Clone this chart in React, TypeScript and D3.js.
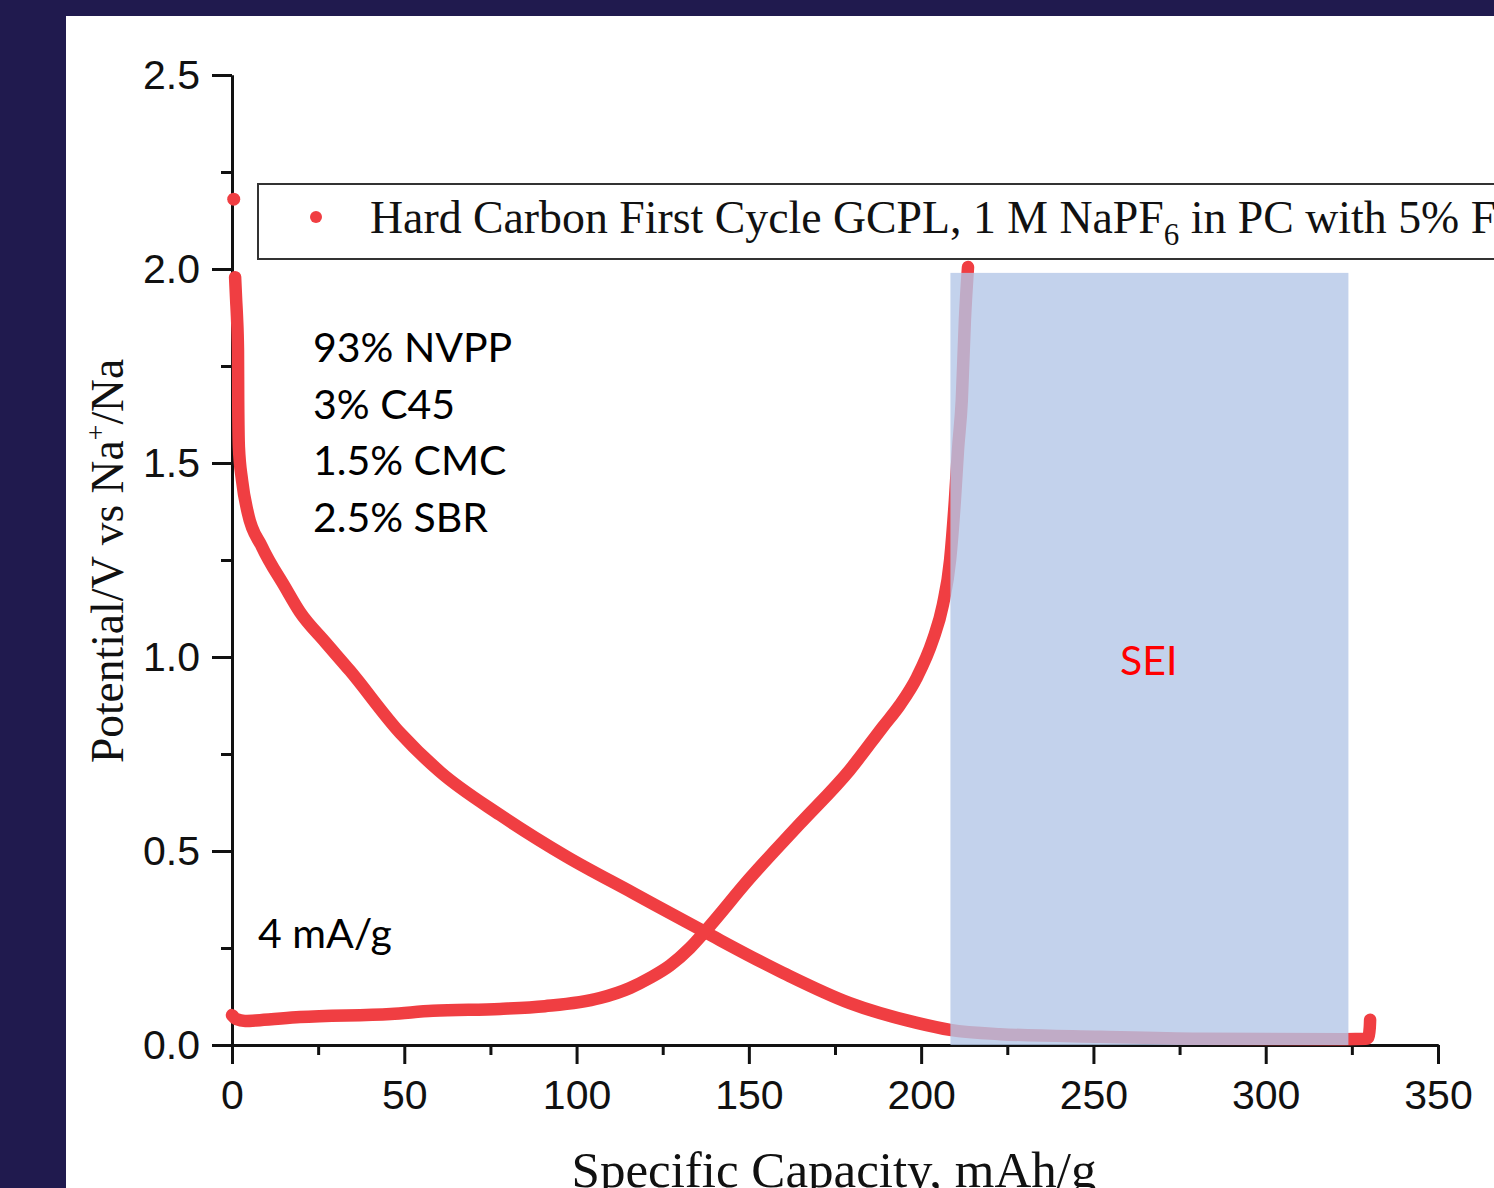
import React, { useEffect, useRef } from 'react';
import * as d3 from 'd3';

const W = 1494;
const H = 1188;

// first sodiation (discharge): capacity mAh/g, potential V
const dischargeCap = [0.5, 0.9, 1.2, 1.45, 1.74, 1.8, 2.0, 2.9, 4.6, 8.7, 15.4, 19.7, 27.0, 34.2, 48.8, 60.4, 77.8, 97.2, 116.4, 137.3, 159.9, 179.3, 198.8, 208.4, 222.9, 251.9, 280.9, 323.0, 329.0, 329.8, 330.2, 330.3];
const dischargeV = [2.18, 1.979, 1.92, 1.876, 1.79, 1.662, 1.541, 1.456, 1.371, 1.284, 1.18, 1.116, 1.039, 0.965, 0.804, 0.704, 0.593, 0.485, 0.392, 0.291, 0.186, 0.108, 0.057, 0.039, 0.028, 0.021, 0.016, 0.015, 0.016, 0.02, 0.045, 0.065];

// first desodiation (charge)
const chargeCap = [0, 1.2, 3.8, 8.1, 19.7, 46.1, 58.3, 77.8, 90.8, 106.8, 115.5, 121.3, 127.1, 132.9, 137.3, 150.3, 164.8, 179.3, 188.9, 193.8, 198.8, 203.4, 206.3, 208.4, 209.8, 210.7, 211.8, 212.7, 213.6];
const chargeV = [0.077, 0.067, 0.062, 0.064, 0.072, 0.08, 0.088, 0.093, 0.1, 0.121, 0.147, 0.173, 0.205, 0.25, 0.293, 0.43, 0.57, 0.709, 0.82, 0.876, 0.948, 1.044, 1.134, 1.25, 1.405, 1.534, 1.662, 1.869, 2.005];

const xMajor = [0, 50, 100, 150, 200, 250, 300, 350];
const xMinor = [25, 75, 125, 175, 225, 275, 325];
const yMajor = [0, 0.5, 1.0, 1.5, 2.0, 2.5];
const yMinor = [0.25, 0.75, 1.25, 1.75, 2.25];

const composition = ['93% NVPP', '3% C45', '1.5% CMC', '2.5% SBR'];
const seiCap = [208.5, 324];
const seiV = [0, 1.99];

const RED = '#f03e42';
const SANS = '"Liberation Sans", Arial, sans-serif';
const SERIF = '"Liberation Serif", "Times New Roman", serif';
const CAL = 'Lato, "Open Sans", sans-serif';

function App() {
  const ref = useRef<SVGSVGElement>(null);

  useEffect(() => {
    const svg = d3.select(ref.current);
    svg.selectAll('*').remove();

    const x = d3.scaleLinear().domain([0, 350]).range([232, 1438]);
    const y = d3.scaleLinear().domain([0, 2.5]).range([1045, 75]);

    svg.append('rect').attr('width', W).attr('height', H).attr('fill', '#201a4e');
    svg.append('rect').attr('x', 66).attr('y', 16).attr('width', W - 66).attr('height', H - 16).attr('fill', '#fff');

    // legend
    svg.append('rect')
      .attr('x', 258).attr('y', 184).attr('width', 1400).attr('height', 75)
      .attr('fill', '#fff').attr('stroke', '#333').attr('stroke-width', 2);
    svg.append('circle').attr('cx', 316).attr('cy', 217).attr('r', 6).attr('fill', RED);
    const lg = svg.append('text')
      .attr('x', 370).attr('y', 233)
      .attr('font-family', SERIF).attr('font-size', 45.8).attr('fill', '#111');
    lg.append('tspan').text('Hard Carbon First Cycle GCPL, 1 M NaPF');
    lg.append('tspan').attr('font-size', 31).attr('dy', 12).text('6');
    lg.append('tspan').attr('dy', -12).text(' in PC with 5% FEC');

    // axes
    const styleAxis = (g: any) => {
      g.selectAll('path, line').attr('stroke', '#111').attr('stroke-width', 3);
      g.selectAll('text').attr('font-family', SANS).attr('font-size', 41).attr('fill', '#111');
    };

    svg.append('g').attr('transform', 'translate(0,1045)')
      .call(d3.axisBottom(x).tickValues(xMinor).tickSize(10).tickSizeOuter(0).tickFormat(() => ''))
      .call(styleAxis);
    svg.append('g').attr('transform', 'translate(0,1045)')
      .call(d3.axisBottom(x).tickValues(xMajor).tickSize(19).tickSizeOuter(0).tickPadding(16).tickFormat(d3.format('d')))
      .call(styleAxis);
    svg.append('g').attr('transform', 'translate(232,0)')
      .call(d3.axisLeft(y).tickValues(yMinor).tickSize(11).tickSizeOuter(0).tickFormat(() => ''))
      .call(styleAxis);
    svg.append('g').attr('transform', 'translate(232,0)')
      .call(d3.axisLeft(y).tickValues(yMajor).tickSize(20).tickSizeOuter(0).tickPadding(12).tickFormat(d3.format('.1f')))
      .call(styleAxis);

    // axis titles
    svg.append('text')
      .attr('x', 834).attr('y', 1187).attr('text-anchor', 'middle')
      .attr('font-family', SERIF).attr('font-size', 51).attr('fill', '#111')
      .text('Specific Capacity, mAh/g');
    const yt = svg.append('text')
      .attr('transform', 'translate(123,561) rotate(-90)').attr('text-anchor', 'middle')
      .attr('font-family', SERIF).attr('font-size', 45.5).attr('fill', '#111');
    yt.append('tspan').text('Potential/V vs Na');
    yt.append('tspan').attr('font-size', 28).attr('dy', -18).text('+');
    yt.append('tspan').attr('dy', 18).text('/Na');

    // curves
    const line = d3.line<[number, number]>()
      .x(d => x(d[0])).y(d => y(d[1]))
      .curve(d3.curveMonotoneX);
    const discharge = dischargeCap.map((c, i) => [c, dischargeV[i]] as [number, number]);
    const charge = chargeCap.map((c, i) => [c, chargeV[i]] as [number, number]);

    svg.append('circle').attr('cx', x(discharge[0][0])).attr('cy', y(discharge[0][1])).attr('r', 6.5).attr('fill', RED);
    svg.append('path').datum(discharge.slice(1))
      .attr('fill', 'none').attr('stroke', RED).attr('stroke-width', 12.5)
      .attr('stroke-linecap', 'round').attr('stroke-linejoin', 'round')
      .attr('d', line);
    svg.append('path').datum(charge)
      .attr('fill', 'none').attr('stroke', RED).attr('stroke-width', 12.5)
      .attr('stroke-linecap', 'round').attr('stroke-linejoin', 'round')
      .attr('d', line);

    // SEI region
    svg.append('rect')
      .attr('x', x(seiCap[0])).attr('y', y(seiV[1]))
      .attr('width', x(seiCap[1]) - x(seiCap[0])).attr('height', y(seiV[0]) - y(seiV[1]))
      .attr('fill', '#b4c7e7').attr('fill-opacity', 0.8);

    svg.append('text')
      .attr('x', 1120).attr('y', 675)
      .attr('font-family', CAL).attr('font-size', 41).attr('fill', '#ff0000')
      .text('SEI');

    // annotations
    svg.append('g').selectAll('text').data(composition).join('text')
      .attr('x', 313).attr('y', (d, i) => 362 + i * 56.7)
      .attr('font-family', CAL).attr('font-size', 41).attr('fill', '#000')
      .text(d => d);
    svg.append('text')
      .attr('x', 258).attr('y', 948)
      .attr('font-family', CAL).attr('font-size', 41).attr('fill', '#000')
      .text('4 mA/g');
  }, []);

  return <svg ref={ref} width={W} height={H} style={{ position: 'absolute', left: 0, top: 0 }} />;
}

export default App;
